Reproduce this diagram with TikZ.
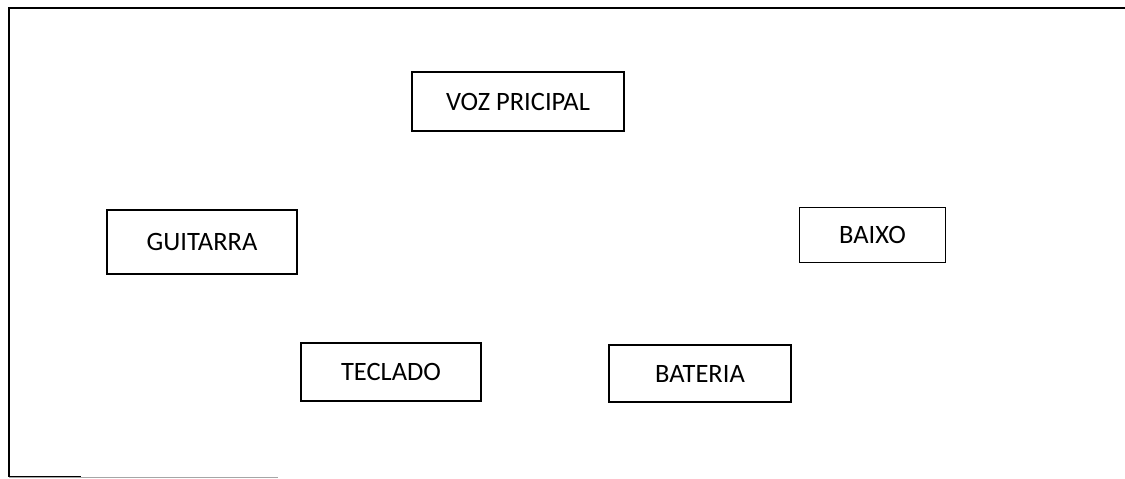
\documentclass[tikz,border=0pt]{standalone}
\usepackage{fontspec}
\setmainfont{Carlito}
\begin{document}
\begin{tikzpicture}[x=1pt,y=-1pt,
  inst/.style={draw=black, line width=1.7pt, rectangle, inner sep=0pt, font=\fontsize{26.5}{30}\selectfont},
  frame/.style={draw=black, line width=2.5pt}]
\useasboundingbox (0,0) rectangle (1125,479);
% frame
\coordinate (tl) at (9,8);
\coordinate (tr) at (1125,8);
\coordinate (bl) at (9,477);
\coordinate (br) at (278,477);
\draw[frame] (tr) -- (tl) -- (bl);
\draw[black, line width=1.8pt] (bl) -- ++(72,0);
\draw[gray!70, line width=1pt] (bl) -- (br);
% boxes
\node[inst, minimum width=212pt, minimum height=59pt] (voz) at (518,101.5) {VOZ PRICIPAL};
\node[inst, minimum width=190pt, minimum height=64pt] (gui) at (202,242) {GUITARRA};
\node[inst, minimum width=146pt, minimum height=55pt] (bai) at (872.5,235) {BAIXO};
\node[inst, minimum width=180pt, minimum height=58pt] (tec) at (391,372) {TECLADO};
\node[inst, minimum width=182pt, minimum height=57pt] (bat) at (700,373.5) {BATERIA};
\end{tikzpicture}
\end{document}
